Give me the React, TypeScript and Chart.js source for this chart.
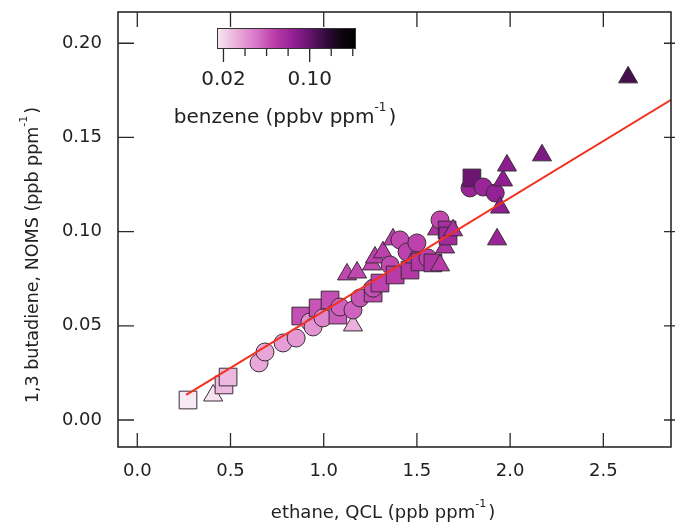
import React, { useEffect, useRef } from 'react';
import { Chart, registerables } from 'chart.js';

Chart.register(...registerables);

// ---- data ----
const ethane = [
  0.272, 0.407, 0.465, 0.487, 0.653, 0.685, 0.782, 0.852, 0.877, 0.926,
  0.943, 0.970, 0.996, 1.034, 1.076, 1.087, 1.125, 1.157, 1.157, 1.179,
  1.195, 1.259, 1.265, 1.265, 1.275, 1.302, 1.318, 1.356, 1.372, 1.383,
  1.409, 1.447, 1.463, 1.489, 1.500, 1.517, 1.559, 1.586, 1.608, 1.624,
  1.624, 1.651, 1.662, 1.667, 1.694, 1.785, 1.795, 1.855, 1.920, 1.930,
  1.946, 1.962, 1.983, 2.171, 2.633,
];
const butadiene = [
  0.0106, 0.0130, 0.0186, 0.0228, 0.0303, 0.0361, 0.0409, 0.0435, 0.0552, 0.0520,
  0.0494, 0.0595, 0.0542, 0.0637, 0.0557, 0.0600, 0.0773, 0.0502, 0.0584, 0.0783,
  0.0648, 0.0826, 0.0674, 0.0700, 0.0863, 0.0727, 0.0890, 0.0823, 0.0959, 0.0770,
  0.0956, 0.0892, 0.0796, 0.0863, 0.0940, 0.0839, 0.0860, 0.0834, 0.1012, 0.0821,
  0.1062, 0.0916, 0.1009, 0.0977, 0.1007, 0.1232, 0.1285, 0.1237, 0.1205, 0.0959,
  0.1128, 0.1272, 0.1351, 0.1405, 0.1819,
];
const benzene = [
  0.014, 0.016, 0.028, 0.029, 0.034, 0.035, 0.037, 0.039, 0.062, 0.042,
  0.040, 0.060, 0.045, 0.062, 0.058, 0.056, 0.064, 0.031, 0.056, 0.064,
  0.060, 0.064, 0.064, 0.062, 0.066, 0.066, 0.066, 0.064, 0.066, 0.068,
  0.064, 0.066, 0.070, 0.068, 0.066, 0.070, 0.066, 0.072, 0.072, 0.068,
  0.064, 0.072, 0.076, 0.078, 0.074, 0.082, 0.098, 0.082, 0.084, 0.082,
  0.086, 0.086, 0.088, 0.092, 0.110,
];
const markers = [
  'rect', 'triangle', 'rect', 'rect', 'circle', 'circle', 'circle', 'circle', 'rect', 'circle',
  'circle', 'rect', 'circle', 'rect', 'rect', 'circle', 'triangle', 'triangle', 'circle', 'triangle',
  'circle', 'triangle', 'rect', 'circle', 'triangle', 'rect', 'triangle', 'circle', 'triangle', 'rect',
  'circle', 'circle', 'rect', 'triangle', 'circle', 'rect', 'circle', 'rect', 'triangle', 'triangle',
  'circle', 'triangle', 'rect', 'rect', 'triangle', 'circle', 'rect', 'circle', 'circle', 'triangle',
  'triangle', 'triangle', 'triangle', 'triangle', 'triangle',
];
const xTicks = [0, 0.5, 1.0, 1.5, 2.0, 2.5];
const yTicks = [0, 0.05, 0.1, 0.15, 0.2];
const fitX = [0.262, 2.9];
const fitY = [0.0133, 0.1722];
const cbRange = [0.014, 0.143];
const cbMajor = [0.02, 0.1];
const cbMinor = [0.04, 0.06, 0.08, 0.12, 0.14];

// ---- style ----
const FONT = "'DejaVu Sans', sans-serif";
const TEXT = '#222222';
const STOPS: [number, number[]][] = [
  [0.0, [247, 234, 244]],
  [0.12, [236, 182, 222]],
  [0.28, [218, 118, 200]],
  [0.42, [184, 58, 168]],
  [0.55, [146, 32, 148]],
  [0.68, [96, 20, 104]],
  [0.8, [44, 10, 52]],
  [0.9, [12, 6, 14]],
  [1.0, [0, 0, 0]],
];

function cmap(t: number): string {
  t = Math.max(0, Math.min(1, t));
  for (let i = 1; i < STOPS.length; i++) {
    if (t <= STOPS[i][0]) {
      const [t0, c0] = STOPS[i - 1];
      const [t1, c1] = STOPS[i];
      const f = (t - t0) / (t1 - t0);
      const c = c0.map((v, k) => Math.round(v + (c1[k] - v) * f));
      return `rgb(${c[0]},${c[1]},${c[2]})`;
    }
  }
  return 'rgb(0,0,0)';
}
const colorFor = (b: number) => cmap((b - cbRange[0]) / (cbRange[1] - cbRange[0]));

function drawSupText(
  ctx: CanvasRenderingContext2D,
  before: string,
  sup: string,
  after: string,
  cx: number,
  y: number,
  size: number
) {
  ctx.font = `${size}px ${FONT}`;
  const w1 = ctx.measureText(before).width;
  const w3 = ctx.measureText(after).width;
  ctx.font = `${Math.round(size * 0.6)}px ${FONT}`;
  const w2 = ctx.measureText(sup).width;
  const total = w1 + w2 + w3 + 2;
  let x = cx - total / 2;
  ctx.textAlign = 'left';
  ctx.textBaseline = 'alphabetic';
  ctx.font = `${size}px ${FONT}`;
  ctx.fillText(before, x, y);
  x += w1;
  ctx.font = `${Math.round(size * 0.6)}px ${FONT}`;
  ctx.fillText(sup, x, y - size * 0.62);
  x += w2 + 2;
  ctx.font = `${size}px ${FONT}`;
  ctx.fillText(after, x, y);
}

const framePlugin = {
  id: 'frame',
  afterDraw(chart: any) {
    const { ctx, chartArea: a, scales } = chart;
    const xs = scales.x;
    const ys = scales.y;
    ctx.save();
    ctx.strokeStyle = '#2a2a2a';
    ctx.lineWidth = 1.6;
    ctx.strokeRect(a.left, a.top, a.right - a.left, a.bottom - a.top);
    ctx.lineWidth = 1.3;
    ctx.beginPath();
    for (const v of xTicks) {
      const px = xs.getPixelForValue(v);
      ctx.moveTo(px, a.bottom);
      ctx.lineTo(px, a.bottom - 14);
      ctx.moveTo(px, a.top);
      ctx.lineTo(px, a.top + 15);
    }
    for (const v of yTicks) {
      const py = ys.getPixelForValue(v);
      ctx.moveTo(a.left, py);
      ctx.lineTo(a.left + 16, py);
      ctx.moveTo(a.right + 4, py);
      ctx.lineTo(a.right - 7, py);
    }
    ctx.stroke();

    // tick labels
    ctx.fillStyle = TEXT;
    ctx.font = `18px ${FONT}`;
    ctx.textAlign = 'center';
    ctx.textBaseline = 'alphabetic';
    for (const v of xTicks) ctx.fillText(v.toFixed(1), xs.getPixelForValue(v), 476);
    ctx.textAlign = 'right';
    ctx.textBaseline = 'middle';
    for (const v of yTicks) ctx.fillText(v.toFixed(2), 102, ys.getPixelForValue(v));

    // axis titles
    drawSupText(ctx, 'ethane, QCL (ppb ppm', '-1', ')', 383, 518, 18);
    ctx.save();
    ctx.translate(38, 255);
    ctx.rotate(-Math.PI / 2);
    drawSupText(ctx, '1,3 butadiene, NOMS (ppb ppm', '-1', ')', 0, 0, 17.5);
    ctx.restore();

    // colour bar
    const L = 217, R = 356, T = 28, B = 49;
    const grad = ctx.createLinearGradient(L, 0, R, 0);
    for (let i = 0; i <= 40; i++) grad.addColorStop(i / 40, cmap(i / 40));
    ctx.fillStyle = grad;
    ctx.fillRect(L, T, R - L, B - T);
    ctx.strokeStyle = '#333';
    ctx.lineWidth = 1;
    ctx.strokeRect(L + 0.5, T + 0.5, R - L - 1, B - T - 1);
    const cbPx = (v: number) => L + ((v - cbRange[0]) / (cbRange[1] - cbRange[0])) * (R - L);
    ctx.lineWidth = 1.3;
    ctx.strokeStyle = '#2a2a2a';
    ctx.beginPath();
    for (const v of cbMajor) {
      ctx.moveTo(cbPx(v), B);
      ctx.lineTo(cbPx(v), B + 13);
    }
    for (const v of cbMinor) {
      ctx.moveTo(cbPx(v), B);
      ctx.lineTo(cbPx(v), B + 7);
    }
    ctx.stroke();
    ctx.fillStyle = TEXT;
    ctx.font = `20px ${FONT}`;
    ctx.textAlign = 'center';
    ctx.textBaseline = 'alphabetic';
    for (const v of cbMajor) ctx.fillText(v.toFixed(2), cbPx(v), 85);
    drawSupText(ctx, 'benzene (ppbv ppm', '-1', ')', 285, 123, 20);
    ctx.restore();
  },
};

export default function App() {
  const ref = useRef<HTMLCanvasElement | null>(null);
  useEffect(() => {
    if (!ref.current) return;
    const chart = new Chart(ref.current, {
      type: 'scatter',
      data: {
        datasets: [
          {
            type: 'line',
            data: fitX.map((x, i) => ({ x, y: fitY[i] })),
            borderColor: '#f2311f',
            borderWidth: 2,
            pointRadius: 0,
            fill: false,
            order: 0,
          } as any,
          {
            data: ethane.map((x, i) => ({ x, y: butadiene[i] })),
            pointStyle: markers as any,
            pointRadius: markers.map((m) => (m === 'rect' ? 12.5 : m === 'triangle' ? 11 : 9)),
            pointBackgroundColor: benzene.map(colorFor),
            pointBorderColor: '#3a2c38',
            pointBorderWidth: 1,
            order: 1,
          } as any,
        ],
      },
      options: {
        responsive: false,
        animation: false,
        layout: { autoPadding: false, padding: { top: 12, right: 4, left: 0, bottom: 0 } },
        plugins: { legend: { display: false }, tooltip: { enabled: false } },
        scales: {
          x: {
            type: 'linear',
            min: -0.1035,
            max: 2.863,
            grid: { display: false, drawTicks: false },
            border: { display: false },
            ticks: { display: false },
            afterBuildTicks: (s: any) => {
              s.ticks = xTicks.map((v) => ({ value: v }));
            },
            afterFit: (s: any) => {
              s.height = 78;
            },
          },
          y: {
            type: 'linear',
            min: -0.01434,
            max: 0.2166,
            grid: { display: false, drawTicks: false },
            border: { display: false },
            ticks: { display: false },
            afterBuildTicks: (s: any) => {
              s.ticks = yTicks.map((v) => ({ value: v }));
            },
            afterFit: (s: any) => {
              s.width = 118;
            },
          },
        },
      },
      plugins: [framePlugin],
    });
    return () => chart.destroy();
  }, []);
  return (
    <div style={{ position: 'absolute', left: 0, top: 0, width: 675, height: 525, background: '#fff' }}>
      <canvas ref={ref} width={675} height={525} style={{ display: 'block' }} />
    </div>
  );
}
